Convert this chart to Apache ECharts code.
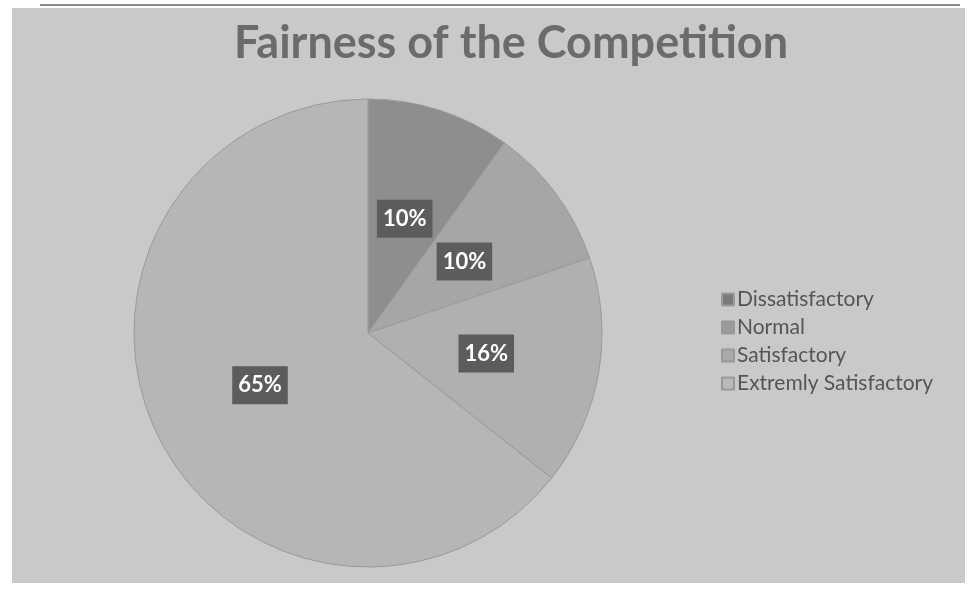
<!DOCTYPE html>
<html>
<head>
<meta charset="utf-8">
<script src="https://cdn.jsdelivr.net/npm/echarts@6/dist/echarts.min.js"></script>
<style>
html,body{margin:0;padding:0;background:#fff;}
#c{width:975px;height:597px;}
</style>
</head>
<body>
<div id="c"></div>
<script>
const categories = ['Dissatisfactory', 'Normal', 'Satisfactory', 'Extremly Satisfactory'];
const values = [10, 10, 16, 65];
const sliceColors = ['#8e8e8e', '#a6a6a6', '#b0b0b0', '#b6b6b6'];
const legendColors = ['#7a7a7a', '#9a9a9a', '#a9a9a9', '#bababa'];

const chart = echarts.init(document.getElementById('c'));
chart.setOption({
  backgroundColor: '#ffffff',
  animation: false,
  graphic: [
    { type: 'rect', z: -10, shape: { x: 12, y: 8, width: 953, height: 575 },
      style: { fill: '#c9c9c9' } },
    { type: 'rect', z: -9, shape: { x: 40, y: 4, width: 920, height: 2 },
      style: { fill: '#8a8a8a' } }
  ],
  title: {
    text: 'Fairness of the Competition',
    left: 506, top: 16, textAlign: 'center',
    textStyle: { fontFamily: 'Lato', fontWeight: 'bold', fontSize: 45, color: '#6b6b6b' }
  },
  legend: {
    orient: 'vertical',
    left: 716, top: 284,
    itemWidth: 12, itemHeight: 12, itemGap: 7,
    icon: 'rect',
    data: categories.map((n, i) => ({ name: n, itemStyle: { color: legendColors[i] } })),
    textStyle: { fontFamily: 'Lato', fontSize: 21, color: '#555', padding: [0, 0, 0, -2] }
  },
  series: [{
    type: 'pie',
    center: [368, 333],
    radius: 234,
    startAngle: 90,
    clockwise: true,
    silent: true,
    data: categories.map((n, i) => ({ name: n, value: values[i], itemStyle: { color: sliceColors[i] } })),
    itemStyle: { borderColor: '#9a9a9a', borderWidth: 1 },
    label: {
      show: true,
      position: 'inside',
      formatter: '{c}%',
      fontFamily: 'Lato', fontWeight: 'bold', fontSize: 22, color: '#ffffff',
      backgroundColor: '#5c5c5c',
      padding: [9, 6, 7, 6]
    },
    labelLine: { show: false }
  }]
});
</script>
</body>
</html>
